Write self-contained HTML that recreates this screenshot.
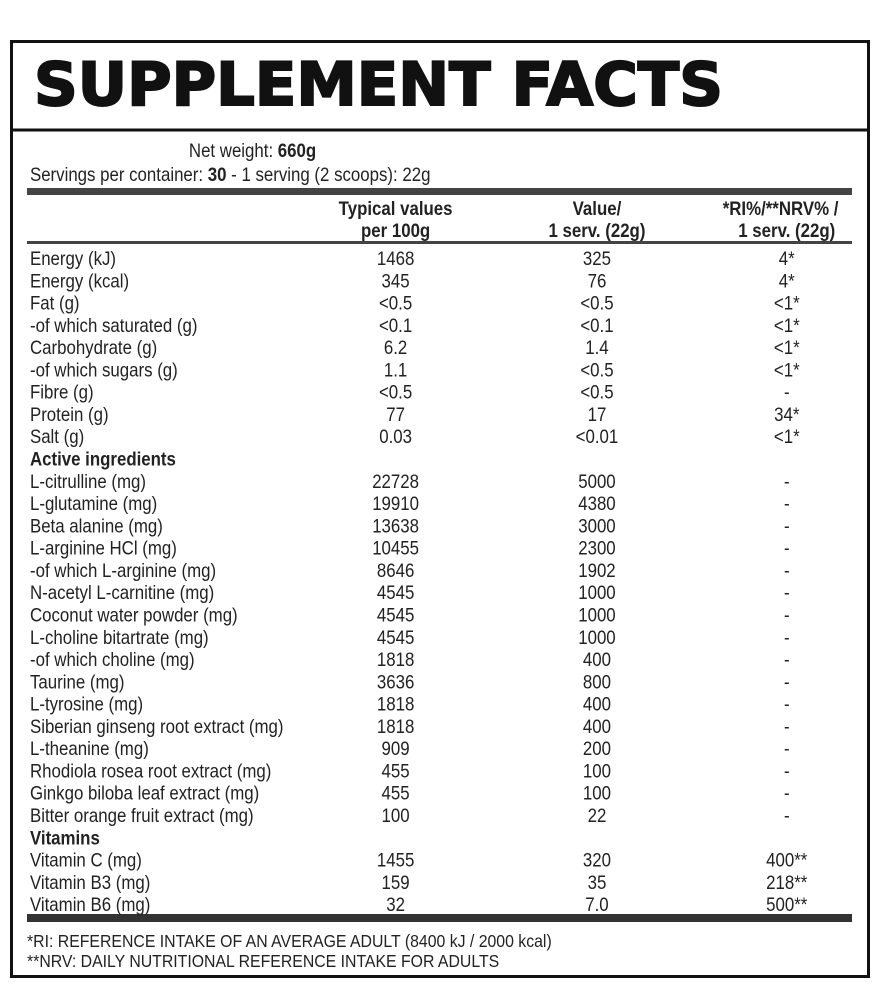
<!DOCTYPE html>
<html><head><meta charset="utf-8"><style>html,body{margin:0;padding:0;background:#fff}svg{display:block}</style></head>
<body>
<svg width="880" height="1000" viewBox="0 0 880 1000" xmlns="http://www.w3.org/2000/svg">
<rect x="0" y="0" width="880" height="1000" fill="#fff"/>
<rect x="11.5" y="41.5" width="857" height="935" fill="none" stroke="#111" stroke-width="3"/>
<line x1="11" y1="130" x2="869" y2="130" stroke="#111" stroke-width="3"/>
<text x="34" y="105" font-family="DejaVu Sans" font-weight="bold" font-size="60" textLength="689" lengthAdjust="spacingAndGlyphs" fill="#111" stroke="#111" stroke-width="2">SUPPLEMENT FACTS</text>
<rect x="27" y="188" width="825" height="7" fill="#444"/>
<rect x="27" y="241" width="825" height="3" fill="#444"/>
<rect x="27" y="914" width="825" height="8" fill="#333"/>
<g transform="scale(0.887,1)" font-family="Liberation Sans, sans-serif" font-size="19" fill="#222">
<text x="213" y="157">Net weight: <tspan font-weight="bold">660g</tspan></text>
<text x="33.8" y="181">Servings per container: <tspan font-weight="bold">30</tspan> - 1 serving (2 scoops): 22g</text>
<g font-weight="bold" text-anchor="middle">
<text x="446" y="215">Typical values</text><text x="446" y="237">per 100g</text>
<text x="673" y="215">Value/</text><text x="673" y="237">1 serv. (22g)</text>
<text x="880" y="215">*RI%/**NRV% /</text><text x="887" y="237">1 serv. (22g)</text>
</g>
<g>
<text x="33.8" y="265">Energy (kJ)</text>
<text x="33.8" y="287.3">Energy (kcal)</text>
<text x="33.8" y="309.6">Fat (g)</text>
<text x="33.8" y="331.8">-of which saturated (g)</text>
<text x="33.8" y="354.1">Carbohydrate (g)</text>
<text x="33.8" y="376.4">-of which sugars (g)</text>
<text x="33.8" y="398.7">Fibre (g)</text>
<text x="33.8" y="421">Protein (g)</text>
<text x="33.8" y="443.2">Salt (g)</text>
<text x="33.8" y="465.5" font-weight="bold">Active ingredients</text>
<text x="33.8" y="487.8">L-citrulline (mg)</text>
<text x="33.8" y="510.1">L-glutamine (mg)</text>
<text x="33.8" y="532.4">Beta alanine (mg)</text>
<text x="33.8" y="554.6">L-arginine HCl (mg)</text>
<text x="33.8" y="576.9">-of which L-arginine (mg)</text>
<text x="33.8" y="599.2">N-acetyl L-carnitine (mg)</text>
<text x="33.8" y="621.5">Coconut water powder (mg)</text>
<text x="33.8" y="643.8">L-choline bitartrate (mg)</text>
<text x="33.8" y="666">-of which choline (mg)</text>
<text x="33.8" y="688.3">Taurine (mg)</text>
<text x="33.8" y="710.6">L-tyrosine (mg)</text>
<text x="33.8" y="732.9">Siberian ginseng root extract (mg)</text>
<text x="33.8" y="755.2">L-theanine (mg)</text>
<text x="33.8" y="777.4">Rhodiola rosea root extract (mg)</text>
<text x="33.8" y="799.7">Ginkgo biloba leaf extract (mg)</text>
<text x="33.8" y="822">Bitter orange fruit extract (mg)</text>
<text x="33.8" y="844.3" font-weight="bold">Vitamins</text>
<text x="33.8" y="866.6">Vitamin C (mg)</text>
<text x="33.8" y="888.8">Vitamin B3 (mg)</text>
<text x="33.8" y="911.1">Vitamin B6 (mg)</text>
</g>
<g text-anchor="middle">
<text x="446" y="265">1468</text><text x="673" y="265">325</text><text x="887" y="265">4*</text>
<text x="446" y="287.3">345</text><text x="673" y="287.3">76</text><text x="887" y="287.3">4*</text>
<text x="446" y="309.6">&lt;0.5</text><text x="673" y="309.6">&lt;0.5</text><text x="887" y="309.6">&lt;1*</text>
<text x="446" y="331.8">&lt;0.1</text><text x="673" y="331.8">&lt;0.1</text><text x="887" y="331.8">&lt;1*</text>
<text x="446" y="354.1">6.2</text><text x="673" y="354.1">1.4</text><text x="887" y="354.1">&lt;1*</text>
<text x="446" y="376.4">1.1</text><text x="673" y="376.4">&lt;0.5</text><text x="887" y="376.4">&lt;1*</text>
<text x="446" y="398.7">&lt;0.5</text><text x="673" y="398.7">&lt;0.5</text><text x="887" y="398.7">-</text>
<text x="446" y="421">77</text><text x="673" y="421">17</text><text x="887" y="421">34*</text>
<text x="446" y="443.2">0.03</text><text x="673" y="443.2">&lt;0.01</text><text x="887" y="443.2">&lt;1*</text>
<text x="446" y="487.8">22728</text><text x="673" y="487.8">5000</text><text x="887" y="487.8">-</text>
<text x="446" y="510.1">19910</text><text x="673" y="510.1">4380</text><text x="887" y="510.1">-</text>
<text x="446" y="532.4">13638</text><text x="673" y="532.4">3000</text><text x="887" y="532.4">-</text>
<text x="446" y="554.6">10455</text><text x="673" y="554.6">2300</text><text x="887" y="554.6">-</text>
<text x="446" y="576.9">8646</text><text x="673" y="576.9">1902</text><text x="887" y="576.9">-</text>
<text x="446" y="599.2">4545</text><text x="673" y="599.2">1000</text><text x="887" y="599.2">-</text>
<text x="446" y="621.5">4545</text><text x="673" y="621.5">1000</text><text x="887" y="621.5">-</text>
<text x="446" y="643.8">4545</text><text x="673" y="643.8">1000</text><text x="887" y="643.8">-</text>
<text x="446" y="666">1818</text><text x="673" y="666">400</text><text x="887" y="666">-</text>
<text x="446" y="688.3">3636</text><text x="673" y="688.3">800</text><text x="887" y="688.3">-</text>
<text x="446" y="710.6">1818</text><text x="673" y="710.6">400</text><text x="887" y="710.6">-</text>
<text x="446" y="732.9">1818</text><text x="673" y="732.9">400</text><text x="887" y="732.9">-</text>
<text x="446" y="755.2">909</text><text x="673" y="755.2">200</text><text x="887" y="755.2">-</text>
<text x="446" y="777.4">455</text><text x="673" y="777.4">100</text><text x="887" y="777.4">-</text>
<text x="446" y="799.7">455</text><text x="673" y="799.7">100</text><text x="887" y="799.7">-</text>
<text x="446" y="822">100</text><text x="673" y="822">22</text><text x="887" y="822">-</text>
<text x="446" y="866.6">1455</text><text x="673" y="866.6">320</text><text x="887" y="866.6">400**</text>
<text x="446" y="888.8">159</text><text x="673" y="888.8">35</text><text x="887" y="888.8">218**</text>
<text x="446" y="911.1">32</text><text x="673" y="911.1">7.0</text><text x="887" y="911.1">500**</text>
</g>
</g>
<g transform="scale(0.88,1)" font-family="Liberation Sans, sans-serif" font-size="18" fill="#222">
<text x="30.7" y="947">*RI: REFERENCE INTAKE OF AN AVERAGE ADULT (8400 kJ / 2000 kcal)</text>
<text x="30.7" y="967">**NRV: DAILY NUTRITIONAL REFERENCE INTAKE FOR ADULTS</text>
</g>
</svg>
</body></html>
